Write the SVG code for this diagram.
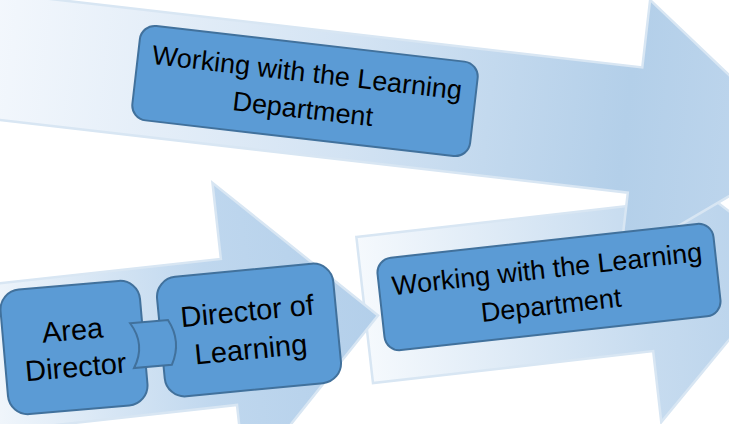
<svg xmlns="http://www.w3.org/2000/svg" width="729" height="424" viewBox="0 0 729 424">
  <style>
    .arrow { stroke: #d8e6f3; stroke-width: 2.5; stroke-linejoin: miter; }
    .box { fill: #5b9bd5; stroke: #41719c; stroke-width: 2; }
    .t { font-family: "Liberation Sans", Arial, sans-serif; text-anchor: middle; fill: #000000; }
    .t27 { font-size: 27px; }
    .t29 { font-size: 29px; }
  </style>
  <defs>
    <linearGradient id="gTop" x1="0" y1="0" x2="1" y2="0">
      <stop offset="0" stop-color="#f4f8fd"/>
      <stop offset="0.45" stop-color="#d3e3f3"/>
      <stop offset="0.78" stop-color="#b3cfe9"/>
      <stop offset="1" stop-color="#c2d8ee"/>
    </linearGradient>
    <linearGradient id="gBL" x1="0" y1="0" x2="1" y2="0">
      <stop offset="0" stop-color="#f7fafd"/>
      <stop offset="0.6" stop-color="#bfd7ee"/>
      <stop offset="1" stop-color="#b3cfea"/>
    </linearGradient>
    <linearGradient id="gBR" x1="0" y1="0" x2="1" y2="0">
      <stop offset="0" stop-color="#f5f9fd"/>
      <stop offset="0.65" stop-color="#c6dbef"/>
      <stop offset="1" stop-color="#b5d0ea"/>
    </linearGradient>
  </defs>

  <rect x="0" y="0" width="729" height="424" fill="#ffffff"/>

  <g id="arrows">
    <g id="arrow-bottom-right" transform="translate(373,383) rotate(-6.5)">
      <path class="arrow" fill="url(#gBR)" d="M0,-147 L282,-147 L282,-218.5 L432,-73.5 L282,71.5 L282,0 L0,0 Z"/>
    </g>
    <g id="arrow-bottom-left" transform="translate(237,405) rotate(-6.3)">
      <path class="arrow" fill="url(#gBL)" d="M-270,-147 L0,-147 L0,-223.5 L150,-73.5 L0,76.5 L0,0 L-270,0 Z"/>
    </g>
    <g id="arrow-top" transform="translate(0,120) rotate(6.6)">
      <path class="arrow" fill="url(#gTop)" d="M-30,-126 L632,-126 L632,-194 L806,-63 L632,68 L632,0 L-30,0 Z"/>
    </g>
  </g>

  <g id="node-top" transform="translate(305,91) rotate(6.6)">
    <rect class="box" x="-170" y="-47.5" width="340" height="95" rx="15"/>
    <text class="t t27" x="0" y="-9.4">Working with the Learning</text>
    <text class="t t27" x="0" y="27.3">Department</text>
  </g>

  <g id="node-area-director" transform="translate(74,347.5) rotate(-5)">
    <rect class="box" x="-70" y="-62.5" width="140" height="125" rx="20"/>
    <text class="t t29" x="0" y="-7.5">Area</text>
    <text class="t t29" x="0" y="29.5">Director</text>
  </g>

  <g id="node-director-learning" transform="translate(249,330) rotate(-5.5)">
    <rect class="box" x="-88.5" y="-60" width="177" height="120" rx="20"/>
    <text class="t t29" x="0" y="-9.2">Director of</text>
    <text class="t t29" x="0" y="29.2">Learning</text>
  </g>

  <g id="node-bottom-right" transform="translate(549,287) rotate(-6.3)">
    <rect class="box" x="-169" y="-46.5" width="338" height="93" rx="15"/>
    <text class="t t27" x="0" y="-9">Working with the Learning</text>
    <text class="t t27" x="0" y="27.4">Department</text>
  </g>

  <g id="connectors">
    <g transform="translate(151,344) rotate(-5)">
      <path class="box" d="M-19,-22.5 L19,-22.5 Q31,0 19,22.5 L-19,22.5 Q-5,0 -19,-22.5 Z"/>
    </g>
  </g>
</svg>
